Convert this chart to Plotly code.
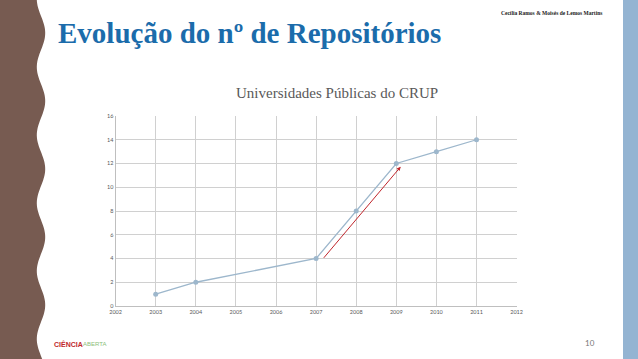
import numpy as np
import plotly.graph_objects as go

years = [2003, 2004, 2007, 2008, 2009, 2010, 2011]
repos = [1, 2, 4, 8, 12, 13, 14]
x_ticks = list(range(2002, 2013))
y_ticks = list(range(0, 17, 2))

title = "Evolução do nº de Repositórios"
subtitle = "Universidades Públicas do CRUP"
authors = "Cecília Ramos & Moisés de Lemos Martins"
page_no = "10"

W, H = 638, 359
SERIF = "Liberation Serif, Times New Roman, DejaVu Serif, serif"

fig = go.Figure()
fig.add_trace(go.Scatter(
    x=years, y=repos, mode="lines+markers",
    line=dict(color="#9db7cc", width=1.3),
    marker=dict(color="#9db7cc", size=5),
    hoverinfo="x+y", showlegend=False,
))

# wavy brown band on the left
ys = np.linspace(0, H, 200)
xs = 41 + 4.2 * np.sin((ys - 16) / 68 * 2 * np.pi)
path = "M 0,1 " + " ".join(f"L {x/W:.5f},{1 - y/H:.5f}" for x, y in zip(xs, ys)) + " L 0,0 Z"

shapes = [
    dict(type="path", xref="paper", yref="paper", path=path,
         fillcolor="#775b51", line=dict(width=0), layer="below"),
    dict(type="rect", xref="paper", yref="paper", x0=623 / W, x1=1, y0=0, y1=1,
         fillcolor="#94b4d2", line=dict(width=0), layer="below"),
]

annotations = [
    dict(text="<b>" + title + "</b>", xref="paper", yref="paper", x=56 / W, y=1 - 33 / H,
         xanchor="left", yanchor="middle", showarrow=False,
         font=dict(family=SERIF, size=29, color="#1b6cab")),
    dict(text=subtitle, xref="paper", yref="paper", x=337 / W, y=1 - 93 / H,
         xanchor="center", yanchor="middle", showarrow=False,
         font=dict(family=SERIF, size=15, color="#595959")),
    dict(text="<b>" + authors + "</b>", xref="paper", yref="paper", x=604 / W, y=1 - 13 / H,
         xanchor="right", yanchor="middle", showarrow=False,
         font=dict(family=SERIF, size=5.5, color="#222222")),
    dict(text=page_no, xref="paper", yref="paper", x=590 / W, y=1 - 343 / H,
         xanchor="center", yanchor="middle", showarrow=False,
         font=dict(family="Lato", size=8, color="#777777")),
    dict(text="<b>CIÊNCIA</b>", xref="paper", yref="paper", x=52 / W, y=1 - 344 / H,
         xanchor="left", yanchor="middle", showarrow=False,
         font=dict(family="Liberation Sans", size=7, color="#c0282d")),
    dict(text="ABERTA", xref="paper", yref="paper", x=81 / W, y=1 - 344 / H,
         xanchor="left", yanchor="middle", showarrow=False,
         font=dict(family="Liberation Sans", size=6, color="#8cc07a")),
    dict(x=2009.11, y=11.73, ax=2007.16, ay=3.93, xref="x", yref="y",
         axref="x", ayref="y", text="", showarrow=True,
         arrowhead=2, arrowsize=0.8, arrowwidth=1, arrowcolor="#c0262c"),
]

fig.update_layout(
    width=W, height=H, margin=dict(l=0, r=0, t=0, b=0, autoexpand=False),
    paper_bgcolor="white", plot_bgcolor="white",
    shapes=shapes, annotations=annotations,
    xaxis=dict(domain=[115.6 / W, 516.6 / W], range=[2002, 2012], automargin=False,
               tickvals=x_ticks, ticktext=[str(v) for v in x_ticks],
               showgrid=True, gridcolor="#d0d0d0", gridwidth=1,
               showline=True, linecolor="#bfbfbf", zeroline=False,
               ticks="", ticklen=0,
               tickfont=dict(family="Lato", size=5.5, color="#595959")),
    yaxis=dict(domain=[1 - 306 / H, 1 - 116 / H], range=[0, 16], automargin=False,
               tickvals=y_ticks, ticktext=[str(v) for v in y_ticks],
               showgrid=True, gridcolor="#d0d0d0", gridwidth=1,
               showline=True, linecolor="#bfbfbf", zeroline=False,
               ticks="", ticklen=0,
               tickfont=dict(family="Lato", size=5.5, color="#595959")),
)

fig.write_html(
    "out.html",
    config={"displayModeBar": False},
    post_script="document.body.style.margin='0';document.body.style.overflow='hidden';",
)
